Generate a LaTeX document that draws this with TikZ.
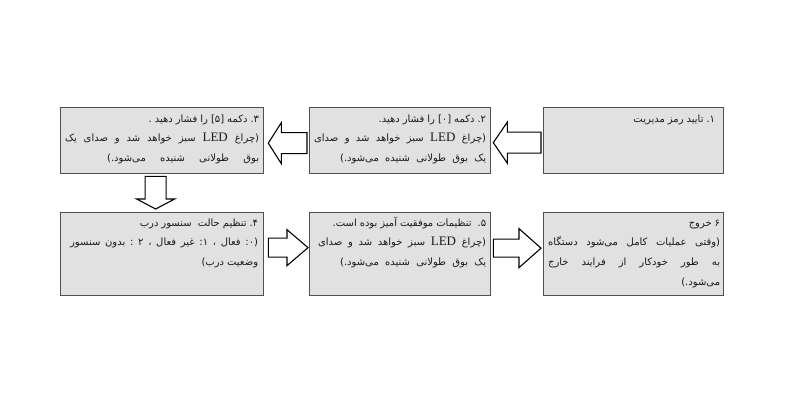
\documentclass[tikz,border=0pt]{standalone}
\usepackage{fontspec}
\setmainfont{Liberation Serif}
\newfontfamily\fa[Script=Arabic]{DejaVu Sans}
\newfontfamily\lat{Liberation Serif}
\TeXXeTstate=1
\usetikzlibrary{calc}
% justified line (optionally narrower than the column), flush right
\newcommand\jline[2][\hsize]{\hbox to \hsize{\hfill\hbox to #1{\spaceskip=0.3em plus 1fil minus 0.12em\xspaceskip=\spaceskip\beginR #2\endR}}}
% ragged (flush right) line
\newcommand\rline[1]{\hbox to \hsize{\hfill\spaceskip=0.3em\xspaceskip=\spaceskip\beginR #1\endR}}
\newcommand\led{{\lat\fontsize{13}{13}\selectfont LED}}
\definecolor{boxfill}{HTML}{E1E1E1}
\definecolor{boxline}{HTML}{505050}
\definecolor{txtcol}{HTML}{1A1A1A}
\tikzset{
  box/.style={draw=boxline, fill=boxfill, line width=1.3pt, rectangle, inner sep=0pt, anchor=north west},
  txt/.style={inner sep=0pt, anchor=base east, text=txtcol, align=right, font=\fa\fontsize{10}{19.8}\selectfont},
  blkarrow/.style={draw=black, fill=white, line width=1.1pt, line join=miter}
}
\begin{document}
\begin{tikzpicture}[x=1pt,y=-1pt]
\useasboundingbox (0,0) rectangle (800,400);
% boxes
\node[box, minimum width=180, minimum height=66] (b1) at (543,107) {};
\node[box, minimum width=181, minimum height=66] (b2) at (309,107) {};
\node[box, minimum width=203, minimum height=66] (b3) at (60,107) {};
\node[box, minimum width=203, minimum height=83] (b4) at (60,212) {};
\node[box, minimum width=181, minimum height=83] (b5) at (309,212) {};
\node[box, minimum width=180, minimum height=83] (b6) at (543,212) {};
% texts
\node[txt, text width=170] (t1) at ($(b1.north east)+(-9,15)$) {%
  \rline{۱. تایید رمز مدیریت}};
\node[txt, text width=172] (t2) at ($(b2.north east)+(-5,15)$) {%
  \rline{۲. دکمه [۰] را فشار دهید.}
  \jline{(چراغ \led{} سبز خواهد شد و صدای}
  \jline[146pt]{یک بوق طولانی شنیده می‌شود.)}};
\node[txt, text width=194] (t3) at ($(b3.north east)+(-5,15)$) {%
  \rline{۳. دکمه [۵] را فشار دهید .}
  \jline{(چراغ \led{} سبز خواهد شد و صدای یک}
  \jline[152pt]{بوق طولانی شنیده می‌شود.)}};
\node[txt, text width=188] (t4) at ($(b4.north east)+(-6,14)$) {%
  \rline{۴. تنظیم حالت \ سنسور درب}
  \jline{(۰: فعال ، ۱: غیر فعال ، ۲ : بدون سنسور}
  \rline{وضعیت درب)}};
\node[txt, text width=168] (t5) at ($(b5.north east)+(-5,14)$) {%
  \rline{۵. \ تنظیمات موفقیت آمیز بوده است.}
  \jline{(چراغ \led{} سبز خواهد شد و صدای}
  \jline[146pt]{یک بوق طولانی شنیده می‌شود.)}};
\node[txt, text width=172] (t6) at ($(b6.north east)+(-4,14)$) {%
  \rline{۶ خروج}
  \jline{(وقتی عملیات کامل می‌شود دستگاه}
  \jline{به طور خودکار از فرایند خارج}
  \rline{می‌شود.)}};
% block arrows
\draw[blkarrow] let \p1=($(b2.east)+(2,2)$), \p2=($(b1.west)+(-2,2)$) in
  (\p1) -- (\x1+14pt,\y1+20.5pt) -- (\x1+14pt,\y1+10.5pt) -- (\x2,\y1+10.5pt)
  -- (\x2,\y1-10.5pt) -- (\x1+14pt,\y1-10.5pt) -- (\x1+14pt,\y1-20.5pt) -- cycle;
\draw[blkarrow] let \p1=($(b3.east)+(4,2.5)$), \p2=($(b2.west)+(-2,2.5)$) in
  (\p1) -- (\x1+13pt,\y1+20.5pt) -- (\x1+13pt,\y1+10.5pt) -- (\x2,\y1+10.5pt)
  -- (\x2,\y1-10.5pt) -- (\x1+13pt,\y1-10.5pt) -- (\x1+13pt,\y1-20.5pt) -- cycle;
\draw[blkarrow] let \p1=($(b4.north)+(-6.5,-3)$), \p2=($(b3.south)+(-6.5,2)$) in
  (\p1) -- (\x1+19pt,\y1+10pt) -- (\x1+10.5pt,\y1+10pt) -- (\x1+10.5pt,\y2)
  -- (\x1-10.5pt,\y2) -- (\x1-10.5pt,\y1+10pt) -- (\x1-19pt,\y1+10pt) -- cycle;
\draw[blkarrow] let \p1=($(b5.west)+(-1,-6.5)$), \p2=($(b4.east)+(4,-6.5)$) in
  (\p1) -- (\x1-21pt,\y1+18pt) -- (\x1-21pt,\y1+9.5pt) -- (\x2,\y1+9.5pt)
  -- (\x2,\y1-9.5pt) -- (\x1-21pt,\y1-9.5pt) -- (\x1-21pt,\y1-18pt) -- cycle;
\draw[blkarrow] let \p1=($(b6.west)+(-2,-6)$), \p2=($(b5.east)+(2,-6)$) in
  (\p1) -- (\x1-22pt,\y1+19.5pt) -- (\x1-22pt,\y1+9pt) -- (\x2,\y1+9pt)
  -- (\x2,\y1-9pt) -- (\x1-22pt,\y1-9pt) -- (\x1-22pt,\y1-19.5pt) -- cycle;
\end{tikzpicture}
\end{document}
